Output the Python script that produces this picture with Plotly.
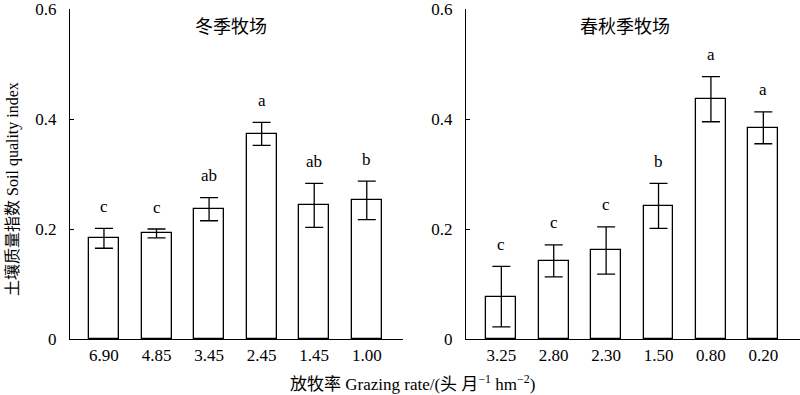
import plotly.graph_objects as go

# ---------------- data ----------------
winter_rates = ["6.90", "4.85", "3.45", "2.45", "1.45", "1.00"]
winter_sqi = [0.183, 0.192, 0.236, 0.373, 0.243, 0.252]
winter_err = [0.018, 0.008, 0.021, 0.021, 0.040, 0.035]
winter_sig = ["c", "c", "ab", "a", "ab", "b"]

spring_rates = ["3.25", "2.80", "2.30", "1.50", "0.80", "0.20"]
spring_sqi = [0.077, 0.142, 0.161, 0.242, 0.436, 0.384]
spring_err = [0.055, 0.029, 0.043, 0.041, 0.041, 0.029]
spring_sig = ["c", "c", "c", "b", "a", "a"]

panel_titles = ["冬季牧场", "春秋季牧场"]
y_ticks = [0, 0.2, 0.4, 0.6]
y_tick_text = ["0", "0.2", "0.4", "0.6"]

FONT = "Liberation Serif, Noto Sans CJK SC, serif"
BLACK = "#000000"

fig = go.Figure()

panels = [
    (winter_rates, winter_sqi, winter_err, winter_sig, "x", "y"),
    (spring_rates, spring_sqi, spring_err, spring_sig, "x2", "y2"),
]

for cats, vals, errs, sig, xa, ya in panels:
    xs = list(range(len(cats)))
    fig.add_trace(go.Bar(
        x=xs, y=vals, width=0.57,
        marker=dict(color="white", line=dict(color=BLACK, width=1.3)),
        error_y=dict(type="data", array=errs, visible=True,
                     color=BLACK, thickness=1.3, width=9),
        xaxis=xa, yaxis=ya, showlegend=False, hoverinfo="skip",
    ))
    for i, (v, e, s) in enumerate(zip(vals, errs, sig)):
        fig.add_annotation(
            x=i, y=v + e, xref=xa, yref=ya, text=s, showarrow=False,
            xanchor="center", yanchor="middle", yshift=22,
            font=dict(family=FONT, size=17, color=BLACK),
        )

axis_common = dict(
    showline=True, linecolor=BLACK, linewidth=1.3,
    showgrid=False, zeroline=False, ticklabeloverflow="allow",
    tickfont=dict(family=FONT, size=17, color=BLACK),
)

fig.update_layout(
    width=800, height=395,
    margin=dict(l=70, r=0, t=7, b=56),
    paper_bgcolor="white", plot_bgcolor="white",
    bargap=0,
    xaxis=dict(domain=[0, 0.456], range=[-0.646, 5.687],
               tickvals=list(range(6)), ticktext=winter_rates,
               ticks="", ticklabelstandoff=0, anchor="y", **axis_common),
    xaxis2=dict(domain=[0.5425, 1], range=[-0.674, 5.70],
                tickvals=list(range(6)), ticktext=spring_rates,
                ticks="", ticklabelstandoff=0, anchor="y2", **axis_common),
    yaxis=dict(range=[0, 0.6], tickvals=y_ticks, ticktext=y_tick_text,
               ticks="inside", ticklen=4, tickcolor=BLACK, tickwidth=1.3,
               ticklabelstandoff=9, anchor="x", **axis_common),
    yaxis2=dict(range=[0, 0.6], tickvals=y_ticks, ticktext=y_tick_text,
                ticks="inside", ticklen=4, tickcolor=BLACK, tickwidth=1.3,
                ticklabelstandoff=9, anchor="x2", **axis_common),
)


def px_x(p):
    return (p - 70) / 730.0


def px_y(p):
    return (395 - 56 - p) / (395 - 56 - 7)


def paper_text(px, py, text, size, angle=0):
    fig.add_annotation(x=px_x(px), y=px_y(py), xref="paper", yref="paper",
                       xanchor="center", yanchor="middle",
                       text=text, showarrow=False, textangle=angle,
                       font=dict(family=FONT, size=size, color=BLACK))


paper_text(231, 25, panel_titles[0], 18)
paper_text(625, 25, panel_titles[1], 18)
paper_text(412, 383, "放牧率 Grazing rate/(头 月<sup>−1</sup> hm<sup>−2</sup>)", 17)
paper_text(13, 188, "土壤质量指数 Soil quality index", 16, angle=-90)

fig.write_html("out.html",
               config={"displayModeBar": False},
               post_script="document.body.style.margin='0';document.body.style.overflow='hidden';")
